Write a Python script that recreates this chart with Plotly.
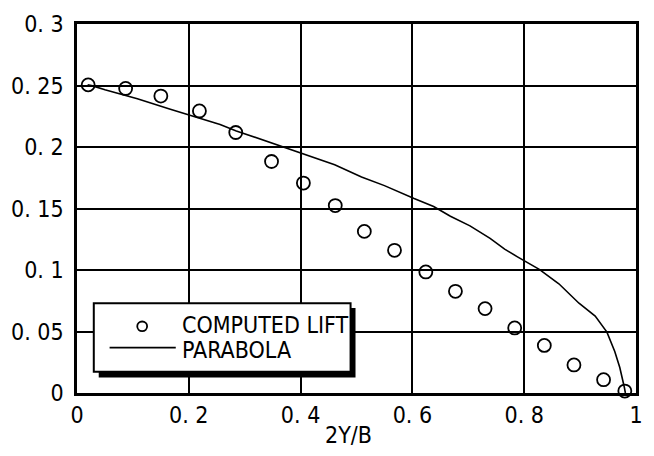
import plotly.graph_objects as go

# Spanwise lift distribution: computed values vs. parabolic reference
span_pts = [0.020, 0.087, 0.150, 0.219, 0.284, 0.348, 0.405, 0.462, 0.514,
            0.568, 0.624, 0.677, 0.730, 0.783, 0.836, 0.889, 0.942, 0.980]
lift_pts = [0.2505, 0.2476, 0.2414, 0.2293, 0.2118, 0.1882, 0.1707, 0.1524,
            0.1314, 0.1160, 0.0984, 0.0827, 0.0686, 0.0529, 0.0387, 0.0228,
            0.0108, 0.0016]

parab_x = [0.019, 0.028, 0.050, 0.108, 0.167, 0.226, 0.256, 0.285, 0.344,
           0.403, 0.461, 0.509, 0.550, 0.603, 0.638, 0.668, 0.703, 0.739,
           0.765, 0.788, 0.827, 0.862, 0.898, 0.927, 0.948, 0.962, 0.971,
           0.979, 0.981]
parab_y = [0.2505, 0.2497, 0.2466, 0.2393, 0.2307, 0.2223, 0.2183, 0.2131,
           0.2040, 0.1948, 0.1856, 0.1757, 0.1686, 0.1581, 0.1516, 0.1437,
           0.1359, 0.1257, 0.1170, 0.1107, 0.1005, 0.0888, 0.0730, 0.0626,
           0.0495, 0.0338, 0.0207, 0.0049, 0.0]

x_ticks = [0, 0.2, 0.4, 0.6, 0.8, 1.0]
x_labels = ["0", "0. 2", "0. 4", "0. 6", "0. 8", "1"]
y_ticks = [0, 0.05, 0.1, 0.15, 0.2, 0.25, 0.3]
y_labels = ["0", "0. 05", "0. 1", "0. 15", "0. 2", "0. 25", "0. 3"]

FONT = "DejaVu Sans Condensed, DejaVu Sans, sans-serif"

fig = go.Figure()
fig.add_trace(go.Scatter(
    x=parab_x, y=parab_y, mode="lines", name="PARABOLA",
    line=dict(color="black", width=1.6), showlegend=False))
fig.add_trace(go.Scatter(
    x=span_pts, y=lift_pts, mode="markers", name="COMPUTED LIFT",
    marker=dict(symbol="circle-open", size=13, color="black",
                line=dict(color="black", width=1.8)),
    showlegend=False, cliponaxis=False))

axis_common = dict(showgrid=True, gridcolor="black", gridwidth=1.6,
                   showline=True, linecolor="black", linewidth=2.5,
                   mirror=True, zeroline=False, ticks="",
                   tickfont=dict(family=FONT, size=23, color="black"))

fig.update_xaxes(range=[0, 1], tickvals=x_ticks, ticktext=x_labels,
                 ticklabelstandoff=0, **axis_common)
fig.update_yaxes(range=[0, 0.3], tickvals=y_ticks, ticktext=y_labels,
                 ticklabelstandoff=6, **axis_common)

# x-axis title
fig.add_annotation(text="2Y/B", xref="paper", yref="paper", x=0.486, y=-0.115,
                   showarrow=False, yanchor="middle", xanchor="center",
                   font=dict(family=FONT, size=23, color="black"))

# legend box with drop shadow, drawn in paper coordinates
def px_x(p):
    return (p - 72) / 566.0

def px_y(p):
    return (393 - p) / 382.0

fig.add_shape(type="rect", xref="paper", yref="paper", layer="above",
              x0=px_x(94), x1=px_x(354), y0=px_y(377), y1=px_y(305),
              fillcolor="black", line=dict(color="black", width=0))
fig.add_shape(type="rect", xref="paper", yref="paper", layer="above",
              x0=px_x(89), x1=px_x(349), y0=px_y(371), y1=px_y(300),
              fillcolor="white", line=dict(color="black", width=2))
fig.add_shape(type="circle", xref="paper", yref="paper", layer="above",
              x0=px_x(133), x1=px_x(143), y0=px_y(329), y1=px_y(319),
              line=dict(color="black", width=1.8))
fig.add_shape(type="line", xref="paper", yref="paper", layer="above",
              x0=px_x(105), x1=px_x(172), y0=px_y(346), y1=px_y(346),
              line=dict(color="black", width=1.6))
fig.add_annotation(text="COMPUTED LIFT", xref="paper", yref="paper",
                   x=px_x(176), y=px_y(323), xanchor="left", yanchor="middle",
                   showarrow=False, font=dict(family=FONT, size=23, color="black"))
fig.add_annotation(text="PARABOLA", xref="paper", yref="paper",
                   x=px_x(176), y=px_y(348), xanchor="left", yanchor="middle",
                   showarrow=False, font=dict(family=FONT, size=23, color="black"))

fig.update_layout(width=654, height=456,
                  margin=dict(l=72, r=16, t=11, b=63),
                  paper_bgcolor="white", plot_bgcolor="white",
                  showlegend=False)

fig.write_html("out.html")
